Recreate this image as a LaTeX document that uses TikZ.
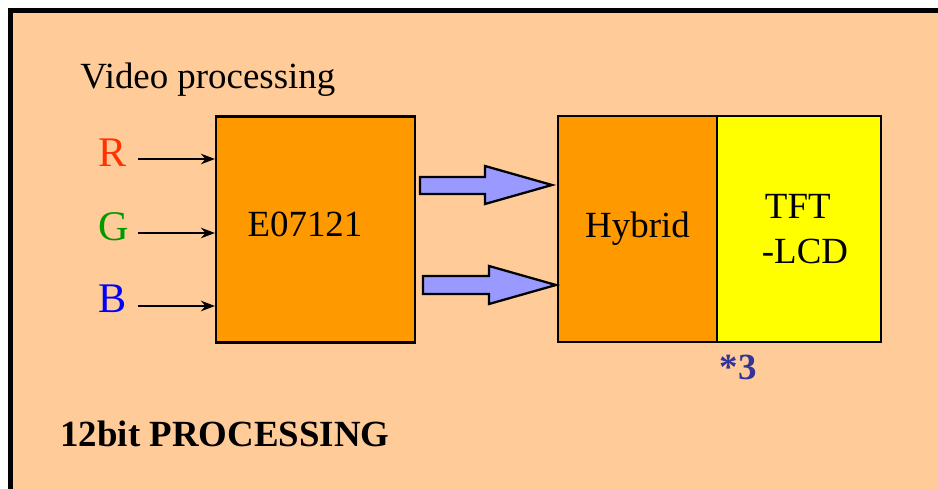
\documentclass[tikz,border=0pt]{standalone}
\usepackage{fontspec}
\setmainfont{Liberation Serif}
\usepackage{tikz}
\usetikzlibrary{positioning,arrows.meta}

\definecolor{peach}{HTML}{FFCC99}
\definecolor{chiporange}{HTML}{FF9900}
\definecolor{lcdyellow}{HTML}{FFFF00}
\definecolor{flowblue}{HTML}{9999FF}
\definecolor{redin}{HTML}{FF3300}
\definecolor{greenin}{HTML}{009900}
\definecolor{bluein}{HTML}{0000FF}
\definecolor{notecol}{HTML}{333399}

\begin{document}
\begin{tikzpicture}[x=0.02cm,y=-0.02cm,
    block/.style={draw,line width=1.2pt,inner sep=0pt,minimum height=4.52cm},
    txt/.style={font=\fontsize{21}{26}\selectfont},
    rgb/.style={font=\fontsize{24}{28}\selectfont,anchor=base west,inner sep=0pt},
    inarrow/.style={-{Stealth[length=8pt,width=6pt]},line width=1.1pt},
    fatarrow/.style={draw,line width=1.3pt,fill=flowblue,line join=miter}]
    \useasboundingbox (0,0) rectangle (938,489);
    % background and frame
    \fill[peach] (8,8) rectangle (945,495);
    \draw[line width=2.9pt] (10.5,495) -- (10.5,10.5) -- (945,10.5);
    \node[txt,anchor=base west,inner sep=0pt] (title) at (80,89) {Video processing};
    % blocks
    \node[block,fill=chiporange,minimum width=3.98cm] (chip) at (315.5,229.5) {};
    \node[txt,anchor=base,inner sep=0pt] (chiplabel) at (305,237) {E07121};
    \node[block,fill=chiporange,minimum width=3.18cm,txt] (hybrid) at (637.5,229) {Hybrid};
    \node[block,fill=lcdyellow,minimum width=3.28cm,txt,align=left] (lcd) at (799,229)
        {\hspace*{0.30cm}TFT\\\hspace*{0.24cm}-LCD};
    % inputs
    \node[rgb,text=redin] (r) at (98,167) {R};
    \node[rgb,text=greenin] (g) at (98,241) {G};
    \node[rgb,text=bluein] (b) at (98,313) {B};
    \draw[inarrow] ([shift={(40,-8)}]r.base west) coordinate (rs) -- (rs -| chip.west);
    \draw[inarrow] ([shift={(40,-8)}]g.base west) coordinate (gs) -- (gs -| chip.west);
    \draw[inarrow] ([shift={(40,-7)}]b.base west) coordinate (bs) -- (bs -| chip.west);
    % data flow
    \draw[fatarrow] (420,177) -- (485,177) -- (485,166) -- (552,185) -- (485,204) -- (485,194) -- (420,194) -- cycle;
    \draw[fatarrow] (423,276) -- (489,276) -- (489,266) -- (556,285) -- (489,304) -- (489,294) -- (423,294) -- cycle;
    % notes
    \node[txt,anchor=base,inner sep=0pt,text=notecol,font=\fontsize{21}{26}\selectfont\bfseries] (times) at (738,380) {*3};
    \node[txt,anchor=base west,inner sep=0pt,font=\fontsize{21}{26}\selectfont\bfseries] (bits) at (60,447) {12bit PROCESSING};
\end{tikzpicture}
\end{document}
